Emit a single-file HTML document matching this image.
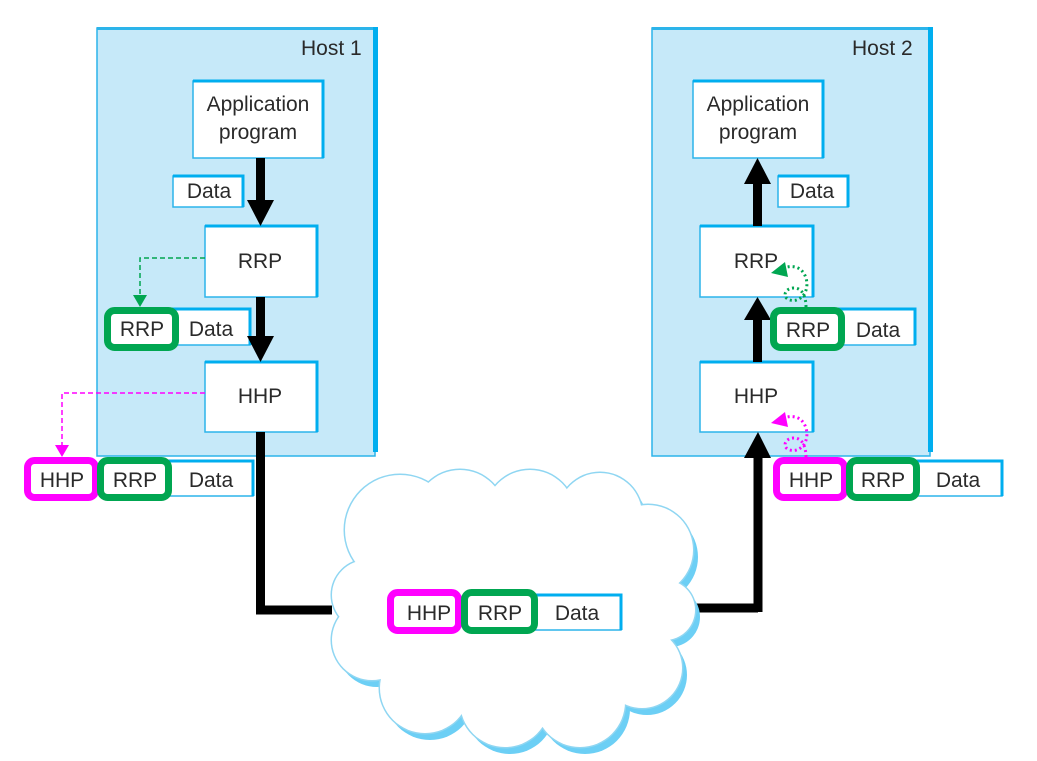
<!DOCTYPE html>
<html><head><meta charset="utf-8"><style>
html,body{margin:0;padding:0;background:#fff;}
svg{display:block;}
text{font-family:"Liberation Sans",sans-serif;font-size:21px;fill:#2a2a2a;}
</style></head><body>
<svg width="1037" height="761" viewBox="0 0 1037 761" xmlns="http://www.w3.org/2000/svg">

<g>
<rect x="97" y="28" width="278" height="428" fill="#c6e9f9" stroke="#2cb4ea" stroke-width="1.5"/>
<line x1="97" y1="28.5" x2="377" y2="28.5" stroke="#2cb4ea" stroke-width="3"/>
<line x1="375.5" y1="27" x2="375.5" y2="452" stroke="#00aeef" stroke-width="5"/>
<text x="301" y="55">Host 1</text>

<rect x="652" y="28" width="278" height="428" fill="#c6e9f9" stroke="#2cb4ea" stroke-width="1.5"/>
<line x1="652" y1="28.5" x2="932" y2="28.5" stroke="#2cb4ea" stroke-width="3"/>
<line x1="930.5" y1="27" x2="930.5" y2="452" stroke="#00aeef" stroke-width="5"/>
<text x="852" y="55">Host 2</text>
</g>

<g fill="#fff" stroke="#2cb4ea" stroke-width="1.5">
<rect x="193" y="81" width="130" height="77"/>
<rect x="173" y="176" width="70" height="31"/>
<rect x="205" y="226" width="112" height="71"/>
<rect x="205" y="362" width="112" height="70"/>
<rect x="170" y="309" width="80" height="36"/>
<rect x="693" y="81" width="130" height="77"/>
<rect x="778" y="176" width="70" height="31"/>
<rect x="700" y="226" width="113" height="71"/>
<rect x="700" y="362" width="113" height="70"/>
<rect x="835" y="309" width="80" height="36"/>
<rect x="160" y="461" width="93" height="35"/>
<rect x="908" y="461" width="94" height="35"/>
</g>
<g stroke="#00aeef" stroke-width="3" fill="none">
<path d="M193,81 H323 V158"/><path d="M173,176 H243 V207"/><path d="M205,226 H317 V297"/><path d="M205,362 H317 V432"/>
<path d="M170,309 H250 V345"/>
<path d="M693,81 H823 V158"/><path d="M778,176 H848 V207"/><path d="M700,226 H813 V297"/><path d="M700,362 H813 V432"/>
<path d="M835,309 H915 V345"/>
<path d="M160,461 H253 V496"/><path d="M908,461 H1002 V496"/>
</g>

<g fill="#000">
<rect x="256" y="158" width="9" height="45"/><path d="M247,200 L274,200 L260.5,226z"/>
<rect x="256" y="297" width="9" height="42"/><path d="M247,336 L274,336 L260.5,362z"/>
</g>
<path d="M260.5,432 V610 H332" stroke="#000" stroke-width="9" fill="none"/>

<g fill="#000">
<rect x="753" y="182" width="9" height="44"/><path d="M744,184 L771,184 L757.5,158z"/>
<rect x="753" y="318" width="9" height="44"/><path d="M744,320 L771,320 L757.5,297z"/>
<rect x="753.5" y="455" width="9" height="157"/><path d="M744,458 L771,458 L758,432z"/>
</g>
<path d="M692,608 H758" stroke="#000" stroke-width="9" fill="none"/>

<!-- cloud -->
<g fill="#6ccff5" transform="translate(5,7)">
<circle cx="400" cy="530" r="55"/><circle cx="460" cy="515" r="45"/><circle cx="530" cy="515" r="45"/><circle cx="600" cy="515" r="42"/><circle cx="648" cy="550" r="45"/><circle cx="665" cy="610" r="30"/><circle cx="642" cy="668" r="40"/><circle cx="580" cy="702" r="45"/><circle cx="505" cy="702" r="45"/><circle cx="425" cy="688" r="45"/><circle cx="372" cy="640" r="40"/><circle cx="367" cy="595" r="35"/>
</g>
<g fill="#8fd6f2">
<circle cx="400" cy="530" r="56.5"/><circle cx="460" cy="515" r="46.5"/><circle cx="530" cy="515" r="46.5"/><circle cx="600" cy="515" r="43.5"/><circle cx="648" cy="550" r="46.5"/><circle cx="665" cy="610" r="31.5"/><circle cx="642" cy="668" r="41.5"/><circle cx="580" cy="702" r="46.5"/><circle cx="505" cy="702" r="46.5"/><circle cx="425" cy="688" r="46.5"/><circle cx="372" cy="640" r="41.5"/><circle cx="367" cy="595" r="36.5"/>
</g>
<g fill="#fff">
<circle cx="400" cy="530" r="55"/><circle cx="460" cy="515" r="45"/><circle cx="530" cy="515" r="45"/><circle cx="600" cy="515" r="42"/><circle cx="648" cy="550" r="45"/><circle cx="665" cy="610" r="30"/><circle cx="642" cy="668" r="40"/><circle cx="580" cy="702" r="45"/><circle cx="505" cy="702" r="45"/><circle cx="425" cy="688" r="45"/><circle cx="372" cy="640" r="40"/><circle cx="367" cy="595" r="35"/>
<polygon points="400,530 460,515 530,515 600,515 648,550 665,610 642,668 580,702 505,702 425,688 372,640 367,595"/>
</g>
<rect x="530" y="595" width="91" height="35" fill="#fff" stroke="#2cb4ea" stroke-width="1.5"/>
<path d="M530,595 H621 V630" stroke="#00aeef" stroke-width="3" fill="none"/>

<g fill="#fff" stroke-width="7">
<rect x="107.5" y="310.5" width="68" height="37" rx="7" stroke="#00a651"/>
<rect x="773.5" y="310.5" width="68" height="37" rx="7" stroke="#00a651"/>
<rect x="27.5" y="460.5" width="68" height="37" rx="7" stroke="#ff00ff"/>
<rect x="100.5" y="460.5" width="68" height="37" rx="7" stroke="#00a651"/>
<rect x="776.5" y="460.5" width="68" height="37" rx="7" stroke="#ff00ff"/>
<rect x="849.5" y="460.5" width="67" height="37" rx="7" stroke="#00a651"/>
<rect x="390.5" y="592.5" width="68" height="38" rx="7" stroke="#ff00ff"/>
<rect x="464.5" y="592.5" width="70" height="38" rx="7" stroke="#00a651"/>
</g>

<path d="M205,258 H140 V297" stroke="#00a651" stroke-width="1.5" stroke-dasharray="5,3" fill="none"/>
<path d="M133,295 L147,295 L140,307z" fill="#00a651"/>
<path d="M205,393 H62 V447" stroke="#ff00ff" stroke-width="1.5" stroke-dasharray="5,3" fill="none"/>
<path d="M55,445 L69,445 L62,457z" fill="#ff00ff"/>

<path d="M806,307 C806,298 803,288 794,288 C784,288 782,298 790,300 C800,303 810,292 806,278 C802,266 792,265 784,268" stroke="#00a651" stroke-width="3" stroke-dasharray="2,3" fill="none"/>
<path d="M771,273 L785,262 L788,277z" fill="#00a651"/>
<path d="M806,457 C806,448 803,438 794,438 C784,438 782,448 790,450 C800,453 810,442 806,428 C802,416 792,415 784,418" stroke="#ff00ff" stroke-width="3" stroke-dasharray="2,3" fill="none"/>
<path d="M771,423 L785,412 L788,427z" fill="#ff00ff"/>

<g text-anchor="middle">
<text x="258" y="111">Application</text><text x="258" y="139">program</text>
<text x="209" y="198">Data</text>
<text x="260" y="268">RRP</text>
<text x="260" y="403">HHP</text>
<text x="142" y="336">RRP</text><text x="211" y="336">Data</text>
<text x="62" y="487">HHP</text><text x="135" y="487">RRP</text><text x="211" y="487">Data</text>

<text x="758" y="111">Application</text><text x="758" y="139">program</text>
<text x="812" y="198">Data</text>
<text x="756" y="268">RRP</text>
<text x="756" y="403">HHP</text>
<text x="808" y="337">RRP</text><text x="878" y="337">Data</text>
<text x="811" y="487">HHP</text><text x="883" y="487">RRP</text><text x="958" y="487">Data</text>

<text x="429" y="620">HHP</text><text x="500" y="620">RRP</text><text x="577" y="620">Data</text>
</g>
</svg>
</body></html>
